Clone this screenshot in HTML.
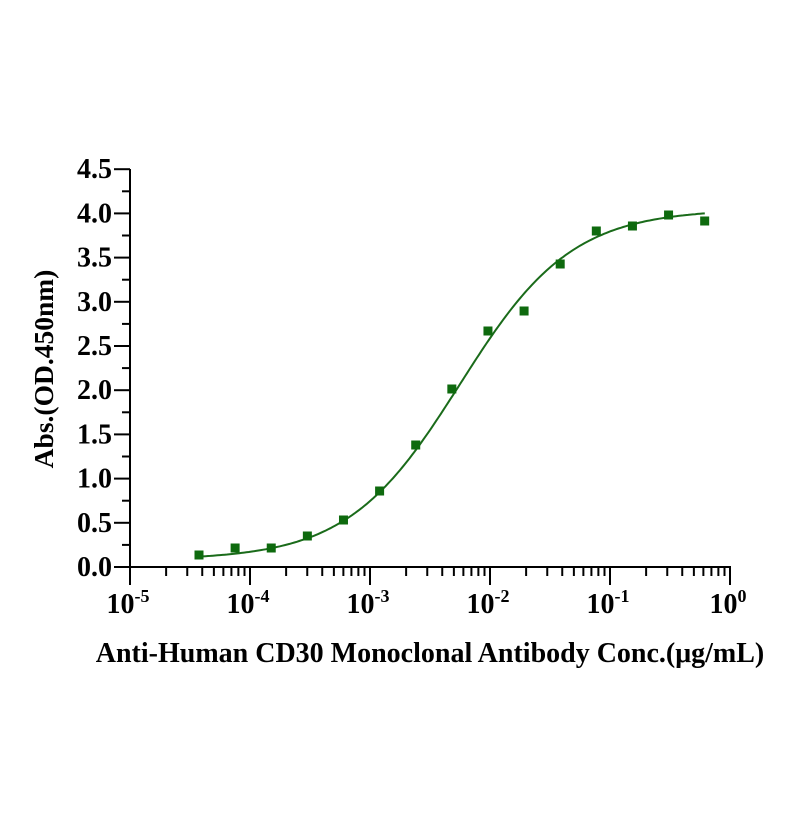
<!DOCTYPE html>
<html><head><meta charset="utf-8"><style>
body{margin:0;background:#fff}
svg text{font-family:"Liberation Serif",serif;font-weight:bold;fill:#000}
</style></head><body>
<svg id="s" width="811" height="811" viewBox="0 0 811 811" xmlns="http://www.w3.org/2000/svg">
<g stroke="#000" stroke-width="2" fill="none" id="ax">
<line x1="130" y1="169" x2="130" y2="568"/>
<line x1="129" y1="567" x2="731" y2="567"/>
</g>
<g id="yl" font-size="28" text-anchor="end"></g>
<g id="xl" font-size="28" text-anchor="middle"></g>
<path id="curve" fill="none" stroke="#1a6b1a" stroke-width="2"/>
<g id="pts" fill="#0e6a0e"></g>
<text x="430" y="662" font-size="28" text-anchor="middle">Anti-Human CD30 Monoclonal Antibody Conc.(μg/mL)</text>
<text transform="translate(53,369) rotate(-90)" font-size="27.5" text-anchor="middle">Abs.(OD.450nm)</text>
</svg>
<script>
var NS="http://www.w3.org/2000/svg";
function X(l){return 130+(l+5)*120;}
function Y(v){return 567-v*88.4;}
function el(t,a,p){var e=document.createElementNS(NS,t);for(var k in a)e.setAttribute(k,a[k]);p.appendChild(e);return e;}
var ax=document.getElementById('ax');
for(var i=0;i<=18;i++){var v=i*0.25,y=Y(v);el('line',{x1:i%2?122:114,y1:y,x2:130,y2:y},ax);}
var yl=document.getElementById('yl');
for(var i=0;i<=9;i++){var t=el('text',{x:112,y:Y(i*0.5)+9},yl);t.textContent=(i*0.5).toFixed(1);}
var xl=document.getElementById('xl');
for(var dd=-5;dd<=0;dd++){el('line',{x1:X(dd),y1:567,x2:X(dd),y2:585},ax);
 if(dd<0)for(var m=2;m<=9;m++){var x=X(dd+Math.log10(m));el('line',{x1:x,y1:567,x2:x,y2:576},ax);}
 var t=el('text',{x:X(dd)-2,y:613},xl);t.innerHTML='10<tspan font-size="18" dy="-11">'+dd+'</tspan>';}
var pts=document.getElementById('pts');
var ys=[555,548,548,536,520,491,445,389,331,311,264,231,226,215,221];
for(var k=0;k<15;k++){var x=199+k*36.12;el('rect',{x:x-4.5,y:ys[k]-4.5,width:9,height:9},pts);}
var vbot=0.08,vtop=4.05,ec=Math.log10(5.6e-3),h=0.93,pd="";
for(var l=-4.43;l<=-0.2;l+=0.02){var v=vbot+(vtop-vbot)/(1+Math.pow(10,(ec-l)*h));pd+=(pd?"L":"M")+X(l).toFixed(1)+","+Y(v).toFixed(1);}
document.getElementById('curve').setAttribute('d',pd);
</script>
</body></html>
